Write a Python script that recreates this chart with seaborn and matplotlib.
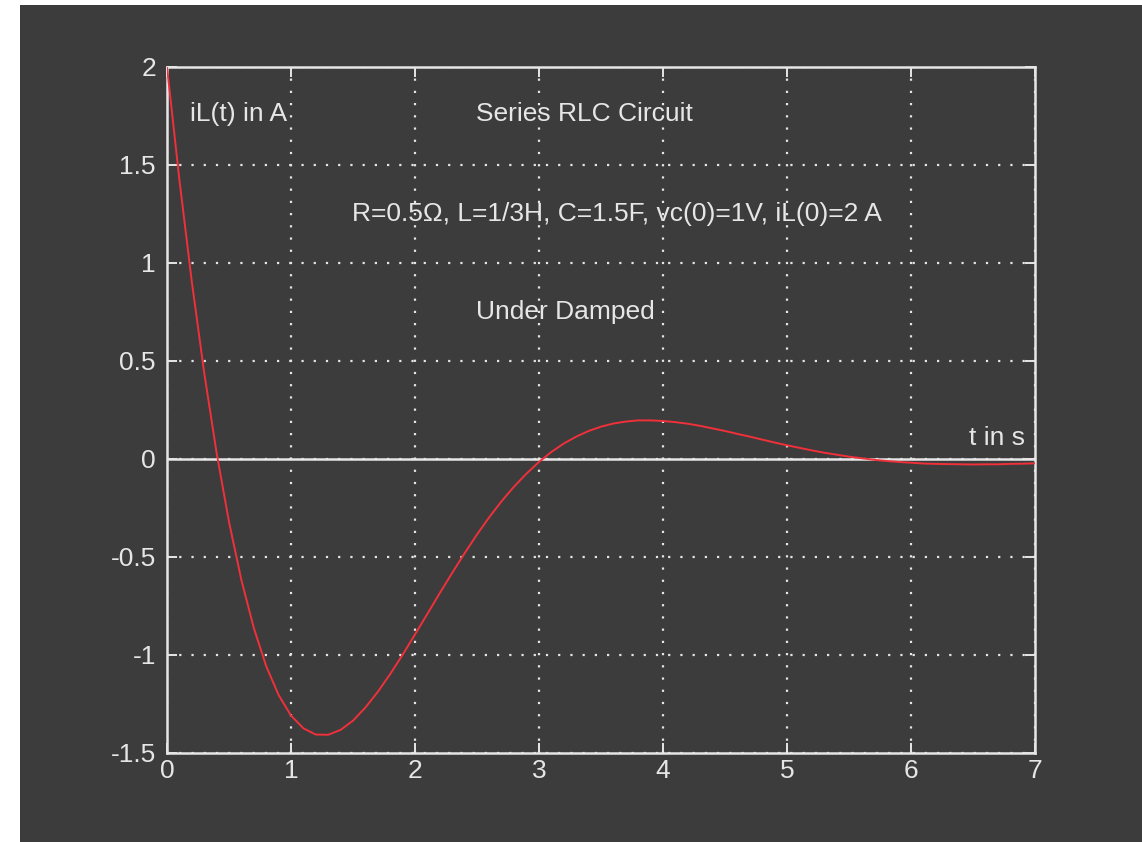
import numpy as np
import pandas as pd
import matplotlib
matplotlib.use("Agg")
import matplotlib.pyplot as plt
import seaborn as sns
from matplotlib.patches import Rectangle

# ---- data (t in s, iL in A), step 0.1 s ----
t_values = [round(0.1 * k, 1) for k in range(71)]
iL_values = [
    2.000, 1.424, 0.905, 0.440, 0.031, -0.321, -0.618, -0.862, -1.057, -1.204,
    -1.309, -1.374, -1.406, -1.407, -1.382, -1.335, -1.268, -1.188, -1.097, -0.999,
    -0.895, -0.790, -0.684, -0.581, -0.481, -0.385, -0.296, -0.214, -0.140, -0.074,
    -0.015, 0.036, 0.079, 0.114, 0.143, 0.165, 0.181, 0.191, 0.197, 0.197,
    0.194, 0.188, 0.180, 0.169, 0.156, 0.143, 0.128, 0.114, 0.099, 0.084,
    0.070, 0.057, 0.044, 0.032, 0.022, 0.012, 0.004, -0.004, -0.010, -0.015,
    -0.019, -0.023, -0.025, -0.026, -0.027, -0.028, -0.027, -0.027, -0.025, -0.024,
    -0.022,
]
x_ticks = [0, 1, 2, 3, 4, 5, 6, 7]
y_ticks = [-1.5, -1, -0.5, 0, 0.5, 1, 1.5, 2]
y_tick_labels = ["-1.5", "-1", "-0.5", "0", "0.5", "1", "1.5", "2"]

title_text = "Series RLC Circuit"
param_text = "R=0.5\u03a9, L=1/3H, C=1.5F, vc(0)=1V, iL(0)=2 A"
damp_text = "Under Damped"
ylabel_text = "iL(t) in A"
xlabel_text = "t in s"

df = pd.DataFrame({"t": t_values, "iL": iL_values})

BG = "#3c3c3c"
FG = "#e6e6e6"

sns.set_style("dark")
plt.rcParams["font.family"] = ["Liberation Sans", "DejaVu Sans"]

W, H = 1142, 842
fig = plt.figure(figsize=(W / 100, H / 100), dpi=100)
fig.patch.set_facecolor("white")
fig.add_artist(Rectangle((20 / W, 0), 1 - 20 / W, 1 - 5 / H, transform=fig.transFigure,
                         facecolor=BG, edgecolor="none", zorder=-10))

ax = fig.add_axes([167 / W, 1 - 753 / H, (1035 - 167) / W, (753 - 67) / H])
ax.set_facecolor(BG)

ax.set_xlim(0, 7)
ax.set_ylim(-1.5, 2)
ax.set_xticks(x_ticks)
ax.set_xticklabels([str(v) for v in x_ticks])
ax.set_yticks(y_ticks)
ax.set_yticklabels(y_tick_labels)

ax.grid(True, color=FG, linestyle=(0, (1, 4.5)), linewidth=1.6, zorder=1)
ax.axhline(0, color=FG, linewidth=1.8, zorder=2)

sns.lineplot(data=df, x="t", y="iL", ax=ax, color="#f0303a", linewidth=1.4, zorder=3)

ax.set_xlabel("")
ax.set_ylabel("")

for s in ax.spines.values():
    s.set_visible(True)
    s.set_color(FG)
    s.set_linewidth(1.8)

fs = 19
ax.tick_params(axis="both", which="both", direction="in", length=7, width=1.4,
               colors=FG, labelcolor=FG, labelsize=fs, top=True, right=True,
               bottom=True, left=True)
ax.tick_params(axis="x", pad=4)
ax.tick_params(axis="y", pad=8)

ax.text(0.185, 1.76, ylabel_text, color=FG, fontsize=fs, va="center", ha="left", zorder=4)
ax.text(2.49, 1.76, title_text, color=FG, fontsize=fs, va="center", ha="left", zorder=4)
ax.text(1.49, 1.25, param_text, color=FG, fontsize=fs, va="center", ha="left", zorder=4)
ax.text(2.49, 0.75, damp_text, color=FG, fontsize=fs, va="center", ha="left", zorder=4)
ax.text(6.47, 0.107, xlabel_text, color=FG, fontsize=fs, va="center", ha="left", zorder=4)

fig.savefig("out.png", dpi=100, facecolor=fig.get_facecolor())
